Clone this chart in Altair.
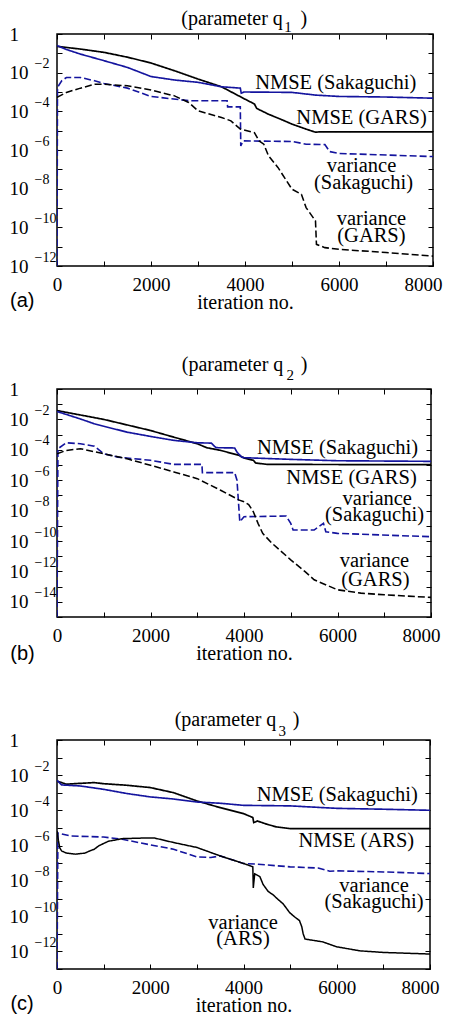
import altair as alt
import pandas as pd

FONT = "Liberation Serif"
SANS = "Liberation Sans"
BLUE = "#14149e"
BLACK = "#000000"

# ---------------- tick values / labels ----------------
X_TICKS = [0, 1000, 2000, 3000, 4000, 5000, 6000, 7000, 8000]
X_LABELS = ["0", "", "2000", "", "4000", "", "6000", "", "8000"]
Y_EXPS = [0, -1, -2, -3, -4, -5, -6, -7, -8, -9, -10, -11, -12, -13, -14, -15]
Y_BASE = ["1", "", "10", "", "10", "", "10", "", "10", "", "10", "", "10", "", "10", ""]
Y_SUP = ["", "", "−2", "", "−4", "", "−6", "", "−8", "", "−10", "", "−12", "", "−14", ""]

# ---------------- panel (a): parameter q1 (values as log10) ----------------
A_TITLE_T = ["(parameter q", "1", ")"]
A_TITLE_X = [3724, 4916, 5253]
A_TITLE_E = [0.78, 0.36, 0.78]
A_X_NGARS = [0, 500, 1000, 1500, 2000, 2500, 3000, 3500, 4000, 4200, 4250, 4500, 4800, 5000, 5300, 5500, 5600, 8000]
A_E_NGARS = [-0.64, -0.78, -0.95, -1.2, -1.5, -1.9, -2.33, -2.73, -3.37, -3.62, -3.85, -4.15, -4.45, -4.66, -4.92, -5.08, -5.06, -5.06]
A_X_NSAK = [0, 200, 500, 1000, 1500, 2000, 2500, 3000, 3500, 3900, 3920, 3980, 5000, 5500, 6000, 7000, 8000]
A_E_NSAK = [-0.6, -0.8, -1.04, -1.38, -1.73, -2.2, -2.38, -2.5, -2.73, -2.8, -3.06, -3.0, -3.02, -3.16, -3.23, -3.26, -3.32]
A_X_VSAK = [0, 10, 100, 200, 500, 800, 1000, 1500, 2000, 2800, 3620, 3630, 3900, 3910, 3960, 5000, 5300, 5700, 5800, 6000, 8000]
A_E_VSAK = [-12, -2.76, -2.42, -2.25, -2.25, -2.42, -2.56, -2.8, -3.23, -3.45, -3.45, -3.77, -3.77, -5.79, -5.53, -5.56, -5.7, -5.72, -6.08, -6.18, -6.34]
A_X_VGARS = [0, 200, 500, 800, 1000, 1500, 2000, 2500, 2800, 3000, 3500, 3700, 3900, 4200, 4300, 4400, 4500, 4700, 5000, 5200, 5300, 5500, 5520, 5700, 6000, 7000, 8000]
A_E_VGARS = [-3.28, -3.02, -2.8, -2.6, -2.6, -2.68, -2.9, -3.2, -3.54, -3.97, -4.32, -4.49, -4.92, -5.1, -5.53, -5.7, -6.3, -6.9, -8.03, -8.29, -8.98, -9.67, -10.88, -11.05, -11.14, -11.3, -11.49]
A_LABEL_T = ["NMSE (Sakaguchi)", "NMSE (GARS)", "variance", "(Sakaguchi)", "variance", "(GARS)"]
A_LABEL_X = [5930, 6480, 6480, 6520, 6690, 6690]
A_LABEL_E = [-2.53, -4.35, -6.83, -7.71, -9.57, -10.45]

# ---------------- panel (b): parameter q2 ----------------
B_TITLE_T = ["(parameter q", "2", ")"]
B_TITLE_X = [3755, 4989, 5287]
B_TITLE_E = [1.58, 0.92, 1.58]
B_X_NGARS = [0, 1000, 2000, 2500, 3000, 3200, 3500, 3900, 4000, 4200, 4250, 4500, 8000]
B_E_NGARS = [-1.42, -2.0, -2.73, -3.17, -3.6, -3.86, -4.04, -4.37, -4.54, -4.69, -4.87, -4.96, -4.98]
B_X_NSAK = [0, 500, 800, 1000, 1500, 2000, 2500, 3000, 3300, 3400, 3800, 3850, 3950, 4000, 5000, 6000, 8000]
B_E_NSAK = [-1.48, -1.97, -2.29, -2.45, -2.84, -3.12, -3.38, -3.54, -3.56, -3.86, -3.88, -4.15, -4.48, -4.52, -4.63, -4.72, -4.76]
B_X_VSAK = [0, 20, 200, 500, 800, 1000, 1300, 2000, 2500, 3100, 3110, 3800, 3850, 3910, 4000, 4900, 5000, 5050, 5500, 5600, 5700, 5750, 6000, 8000]
B_E_VSAK = [-15, -3.93, -3.54, -3.6, -3.76, -4.26, -4.48, -4.69, -4.96, -4.96, -5.5, -5.5, -6.0, -8.73, -8.4, -8.36, -8.84, -9.28, -9.28, -9.06, -8.84, -9.39, -9.5, -9.72]
B_X_VGARS = [0, 200, 500, 1000, 1500, 2000, 2500, 3000, 3500, 3900, 4000, 4100, 4200, 4300, 4400, 4600, 5000, 5300, 5500, 6000, 6500, 7000, 8000]
B_E_VGARS = [-4.26, -4.04, -3.93, -4.26, -4.59, -5.02, -5.46, -5.9, -6.66, -7.31, -7.42, -7.6, -8.08, -8.84, -9.5, -10.15, -11.24, -12.0, -12.55, -13.21, -13.43, -13.54, -13.71]
B_LABEL_T = ["NMSE (Sakaguchi)", "NMSE (GARS)", "variance", "(Sakaguchi)", "variance", "(GARS)"]
B_LABEL_X = [6000, 6300, 6850, 6790, 6790, 6810]
B_LABEL_E = [-3.88, -5.86, -7.24, -8.29, -11.32, -12.57]

# ---------------- panel (c): parameter q3 ----------------
C_TITLE_T = ["(parameter q", "3", ")"]
C_TITLE_X = [3614, 4829, 5128]
C_TITLE_E = [1.14, 0.53, 1.14]
C_X_NARS = [0, 200, 500, 800, 1000, 1500, 2000, 2500, 3000, 3500, 4000, 4200, 4220, 4300, 4500, 4700, 5000, 8000]
C_E_NARS = [-2.33, -2.51, -2.46, -2.42, -2.48, -2.57, -2.7, -2.99, -3.46, -3.84, -4.18, -4.4, -4.69, -4.6, -4.78, -4.93, -5.03, -5.03]
C_X_NSAK = [0, 100, 500, 1000, 1500, 2000, 2500, 3000, 3500, 4000, 5000, 6000, 7000, 8000]
C_E_NSAK = [-2.29, -2.55, -2.61, -2.8, -3.04, -3.23, -3.35, -3.52, -3.59, -3.71, -3.74, -3.88, -3.93, -3.99]
C_X_VSAK = [0, 20, 300, 1000, 1400, 1800, 2100, 2500, 3000, 3300, 3500, 4000, 4300, 5000, 5600, 5850, 6000, 7000, 8000]
C_E_VSAK = [-13, -5.28, -5.45, -5.51, -5.63, -5.85, -6.0, -6.2, -6.64, -6.67, -6.58, -7.01, -7.05, -7.2, -7.27, -7.45, -7.43, -7.49, -7.58]
C_X_VARS = [0, 30, 60, 100, 200, 400, 600, 700, 800, 900, 1100, 1400, 1800, 2100, 2500, 3000, 3500, 4000, 4150, 4200, 4210, 4240, 4350, 4420, 4530, 4640, 4740, 4850, 4990, 5100, 5200, 5250, 5280, 5320, 5700, 6000, 6500, 7000, 8000]
C_E_VARS = [-5.17, -5.7, -6.13, -6.3, -6.42, -6.48, -6.42, -6.3, -6.2, -6.0, -5.75, -5.6, -5.57, -5.57, -5.82, -6.1, -6.58, -7.01, -7.15, -7.2, -8.4, -7.6, -7.75, -8.2, -8.6, -8.8, -9.05, -9.3, -9.8, -10.05, -10.25, -10.6, -11.0, -11.3, -11.46, -11.74, -11.97, -12.06, -12.15]
C_LABEL_T = ["NMSE (Sakaguchi)", "NMSE (ARS)", "variance", "(Sakaguchi)", "variance", "(ARS)"]
C_LABEL_X = [6010, 6420, 6800, 6800, 3990, 3990]
C_LABEL_E = [-3.12, -5.74, -8.3, -9.2, -10.4, -11.3]

SERIES = ["nmse_m", "nmse_s", "var_s", "var_m", "var_m_solid"]
COLORS = [BLACK, BLUE, BLUE, BLACK, BLACK]
DASHES = [[1, 0], [1, 0], [7, 3], [7, 3], [1, 0]]
WIDTHS = [1.7, 1.5, 1.6, 1.7, 1.9]
TITLE_SIZES = [20, 15, 20]


def build_df(series):
    rows = []
    for name, xs, es in series:
        for i, (x, e) in enumerate(zip(xs, es)):
            rows.append({"series": name, "i": i, "x": x, "y": 10.0 ** e})
    return pd.DataFrame(rows)


def js_list(items):
    return "[" + ",".join("'" + s + "'" for s in items) + "]"


def panel(series, labels, ttl, tag, tag_e, ymin, width, height):
    df = build_df(series)
    ldf = pd.DataFrame({"t": labels[0], "x": labels[1], "y": [10.0 ** e for e in labels[2]]})
    tdf = pd.DataFrame({"t": [tag], "x": [-1000], "y": [10.0 ** tag_e]})
    ttdf = pd.DataFrame({"t": ttl[0], "x": ttl[1], "y": [10.0 ** e for e in ttl[2]], "s": TITLE_SIZES})
    n = -ymin + 1
    yvals = [10.0 ** e for e in Y_EXPS[:n]]
    idx = "[round(-log(datum.value)/LN10)]"
    base_expr = js_list(Y_BASE[:n]) + idx
    sup_expr = js_list(Y_SUP[:n]) + idx
    x_expr = js_list(X_LABELS) + "[round(datum.value/1000)]"
    xs = alt.Scale(domain=[0, 8000], nice=False)
    ys = alt.Scale(type="log", domain=[10.0 ** ymin, 1], nice=False)
    common = dict(domain=False, grid=False, tickColor="black", tickWidth=1, tickSize=5,
                  offset=-5, title=None, labelOverlap=False, minExtent=0)
    last = "datum.value >= 7999"
    x_bottom = alt.Axis(orient="bottom", values=X_TICKS, labelExpr=x_expr, labelFont=FONT,
                        labelFontSize=19, labelColor="black", labelPadding=9, labelFlush=False,
                        labelAlign={"condition": {"test": last, "value": "right"}, "value": "center"},
                        labelOffset={"condition": {"test": last, "value": 9}, "value": 0},
                        labelBound=False, domain=False, grid=False, tickColor="black", tickWidth=1,
                        tickSize=5, offset=-5, labelOverlap=False, minExtent=0, title="iteration no.",
                        titleFont=FONT, titleFontSize=20, titleFontWeight="normal",
                        titleColor="black", titlePadding=-2)
    y_left = alt.Axis(orient="left", values=yvals, labelExpr=base_expr, labelFont=FONT,
                      labelFontSize=19, labelColor="black", labelAlign="left", labelPadding=48,
                      labelBaseline="middle", labelFlush=False, labelBound=False, **common)
    y_sup = alt.Axis(orient="left", values=yvals, labelExpr=sup_expr, labelFont=FONT,
                     labelFontSize=14, labelColor="black", labelAlign="left", labelPadding=28,
                     labelBaseline="middle", labelOffset=-9, labelFlush=False, labelBound=False,
                     ticks=False, domain=False, grid=False, offset=-5, title=None,
                     labelOverlap=False, minExtent=0)
    x_top = alt.Axis(orient="top", values=X_TICKS, labels=False, **common)
    y_right = alt.Axis(orient="right", values=yvals, labels=False, **common)

    lines = alt.Chart(df).mark_line(clip=True).encode(
        x=alt.X("x:Q", scale=xs, axis=x_bottom),
        y=alt.Y("y:Q", scale=ys, axis=y_left),
        color=alt.Color("series:N", scale=alt.Scale(domain=SERIES, range=COLORS), legend=None),
        strokeDash=alt.StrokeDash("series:N", scale=alt.Scale(domain=SERIES, range=DASHES), legend=None),
        strokeWidth=alt.StrokeWidth("series:N", scale=alt.Scale(domain=SERIES, range=WIDTHS), legend=None),
        order=alt.Order("i:Q"),
    )
    frame = alt.Chart(df).mark_point(opacity=0).encode(
        x=alt.X("x:Q", scale=xs, axis=x_top),
        y=alt.Y("y:Q", scale=ys, axis=y_right),
    )
    sup = alt.Chart(df).mark_point(opacity=0).encode(
        x=alt.X("x:Q", scale=xs, axis=None),
        y=alt.Y("y:Q", scale=ys, axis=y_sup),
    )
    texts = alt.Chart(ldf).mark_text(font=FONT, fontSize=20.5, color="black", baseline="middle").encode(
        x=alt.X("x:Q", scale=xs, axis=None),
        y=alt.Y("y:Q", scale=ys, axis=None),
        text="t:N",
    )
    titles = alt.Chart(ttdf).mark_text(font=FONT, color="black", baseline="middle").encode(
        x=alt.X("x:Q", scale=xs, axis=None),
        y=alt.Y("y:Q", scale=ys, axis=None),
        size=alt.Size("s:Q", scale=None),
        text="t:N",
    )
    tagt = alt.Chart(tdf).mark_text(font=SANS, fontSize=20, color="black", align="left",
                                    baseline="middle").encode(
        x=alt.X("x:Q", scale=xs, axis=None),
        y=alt.Y("y:Q", scale=ys, axis=None),
        text="t:N",
    )
    return alt.layer(lines, frame, sup, texts, titles, tagt).resolve_axis(
        x="independent", y="independent").properties(width=width, height=height)


pa = panel([("nmse_m", A_X_NGARS, A_E_NGARS), ("nmse_s", A_X_NSAK, A_E_NSAK),
            ("var_s", A_X_VSAK, A_E_VSAK), ("var_m", A_X_VGARS, A_E_VGARS)],
           (A_LABEL_T, A_LABEL_X, A_LABEL_E), (A_TITLE_T, A_TITLE_X, A_TITLE_E),
           "(a)", -13.81, -12, 376, 232)
pb = panel([("nmse_m", B_X_NGARS, B_E_NGARS), ("nmse_s", B_X_NSAK, B_E_NSAK),
            ("var_s", B_X_VSAK, B_E_VSAK), ("var_m", B_X_VGARS, B_E_VGARS)],
           (B_LABEL_T, B_LABEL_X, B_LABEL_E), (B_TITLE_T, B_TITLE_X, B_TITLE_E),
           "(b)", -17.43, -15, 374, 228)
pc = panel([("nmse_m", C_X_NARS, C_E_NARS), ("nmse_s", C_X_NSAK, C_E_NSAK),
            ("var_s", C_X_VSAK, C_E_VSAK), ("var_m_solid", C_X_VARS, C_E_VARS)],
           (C_LABEL_T, C_LABEL_X, C_LABEL_E), (C_TITLE_T, C_TITLE_X, C_TITLE_E),
           "(c)", -15.0, -13, 373, 229)

chart = alt.vconcat(pa, pb, pc, spacing=123, bounds="flush").properties(
    padding={"left": 0, "top": 0, "right": 0, "bottom": 0}
).configure_view(stroke="black", strokeWidth=1.5)

chart.save("out.html", embed_options={"renderer": "svg", "actions": False})
